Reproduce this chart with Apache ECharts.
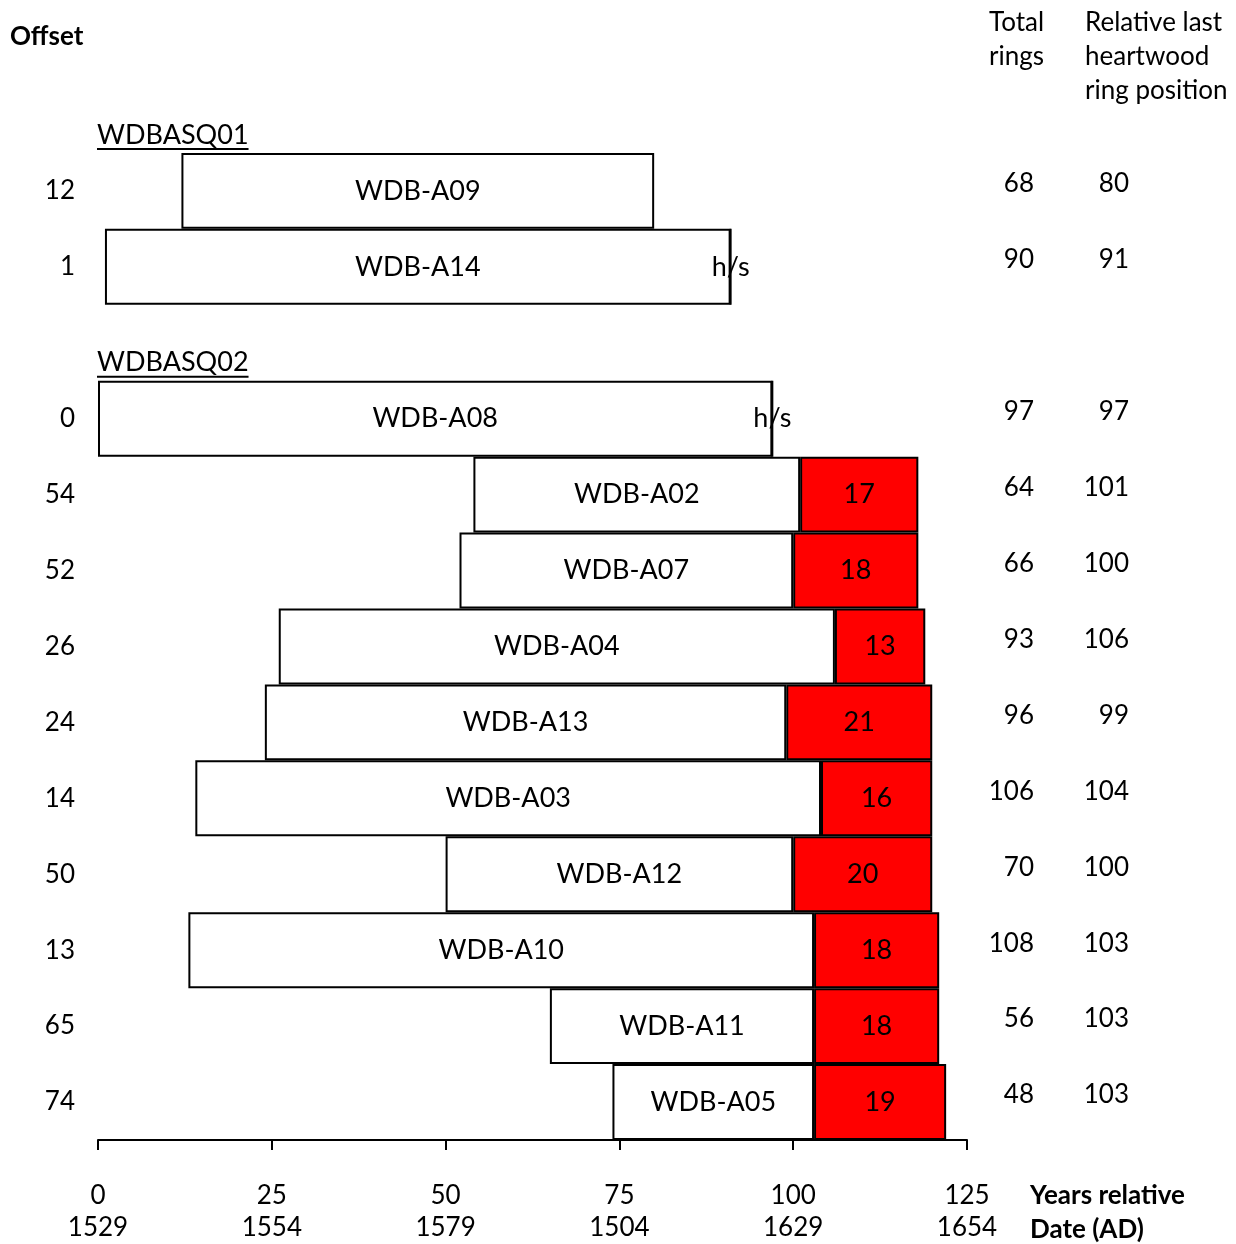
<!DOCTYPE html>
<html>
<head>
<meta charset="utf-8">
<script src="https://cdn.jsdelivr.net/npm/echarts@6/dist/echarts.min.js"></script>
<style>
  html, body { margin: 0; background: #fff; }
  #chart { width: 1236px; height: 1244px; }
</style>
</head>
<body>
<div id="chart"></div>
<script>
// rows top to bottom; the two group names get their own (empty) row
const rows = ['WDBASQ01', 'WDB-A09', 'WDB-A14', 'WDBASQ02', 'WDB-A08', 'WDB-A02', 'WDB-A07',
  'WDB-A04', 'WDB-A13', 'WDB-A03', 'WDB-A12', 'WDB-A10', 'WDB-A11', 'WDB-A05']
const groupRows = ['WDBASQ01', 'WDBASQ02']
const offsets = ['-', 12, 1, '-', 0, 54, 52, 26, 24, 14, 50, 13, 65, 74]
const lastHeartwood = ['-', 80, 91, '-', 97, 101, 100, 106, 99, 104, 100, 103, 103, 103]
// sapwood rings; 0 = only the h/s boundary, '-' = none
const sapwood = ['-', '-', 0, '-', 0, 17, 18, 13, 21, 16, 20, 18, 18, 19]
const totalRings = ['-', 68, 90, '-', 97, 64, 66, 93, 96, 106, 70, 108, 56, 48]
const yearTicks = [0, 25, 50, 75, 100, 125]
const dateLabels = ['1529', '1554', '1579', '1504', '1629', '1654']

const heartwood = lastHeartwood.map((v, i) => (v === '-' ? '-' : v - offsets[i]))

const FONT = 'Lato'
const txt = { color: '#000', fontFamily: FONT, fontSize: 26 }
const barTxt = { ...txt, fontSize: 27, textBorderWidth: 0 }
const blank = v => (v === '-' || v == null ? '' : String(v))
const box = { borderColor: '#000', borderWidth: 2 }

const chart = echarts.init(document.getElementById('chart'))

// right-hand columns sit a little above the row centre
const sideAxis = (vals, margin) => ({
  type: 'category', data: rows, inverse: true, position: 'right',
  axisLine: { show: false }, axisTick: { show: false },
  axisLabel: {
    ...txt, align: 'right', verticalAlign: 'bottom', lineHeight: 14, margin,
    formatter: (v, i) => blank(vals[i])
  }
})

chart.setOption({
  animation: false,
  grid: { left: 98, right: 269, top: 77, bottom: 103 },
  xAxis: {
    type: 'value', min: 0, max: 125, interval: 25,
    splitLine: { show: false },
    axisLine: { show: true, onZero: false, lineStyle: { color: '#000', width: 2 } },
    axisTick: { show: true, length: 10, lineStyle: { color: '#000', width: 2 } },
    axisLabel: {
      ...txt, margin: 40, lineHeight: 32,
      formatter: v => v + '\n' + dateLabels[yearTicks.indexOf(v)]
    }
  },
  yAxis: [
    {
      type: 'category', data: rows, inverse: true,
      axisLine: { show: false }, axisTick: { show: false },
      axisLabel: { ...txt, margin: 23, formatter: (v, i) => blank(offsets[i]) }
    },
    sideAxis(totalRings, 67),
    sideAxis(lastHeartwood, 162)
  ],
  series: [
    {
      type: 'bar', stack: 'r', data: offsets, silent: true, barCategoryGap: '0%',
      itemStyle: { color: 'transparent' }
    },
    {
      type: 'bar', stack: 'r', data: heartwood, barCategoryGap: '0%',
      itemStyle: { color: '#fff', ...box },
      label: { show: true, position: 'inside', ...barTxt, formatter: p => p.name }
    },
    {
      type: 'bar', stack: 'r', data: sapwood, barCategoryGap: '0%',
      itemStyle: { color: '#ff0000', ...box },
      label: {
        show: true, position: 'inside', ...barTxt,
        formatter: p => (p.value === 0 ? 'h/s' : p.value)
      }
    }
  ]
})

// group titles (underlined) and column headers
const ctx = document.createElement('canvas').getContext('2d')
ctx.font = '27px ' + FONT
const x0 = chart.convertToPixel({ xAxisIndex: 0 }, 0)
const graphics = []
groupRows.forEach(g => {
  const cy = chart.convertToPixel({ yAxisIndex: 0 }, g)
  const w = ctx.measureText(g).width
  graphics.push(
    { type: 'text', x: x0 - 1, y: cy + 20, style: { text: g, fill: '#000', font: '27px ' + FONT, verticalAlign: 'middle' } },
    { type: 'rect', shape: { x: x0 - 1, y: cy + 33, width: w, height: 2 }, style: { fill: '#000' } }
  )
})
const head = (text, x, y, weight) => ({
  type: 'text', x, y,
  style: { text, fill: '#000', font: (weight || 'normal') + ' 26px ' + FONT, lineHeight: 34, verticalAlign: 'top' }
})
graphics.push(
  head('Offset', 10, 20, 'bold'),
  head('Total\nrings', 989, 6),
  head('Relative last\nheartwood\nring position', 1085, 6),
  head('Years relative\nDate (AD)', 1030, 1179, 'bold')
)
chart.setOption({ graphic: graphics })
</script>
</body>
</html>
